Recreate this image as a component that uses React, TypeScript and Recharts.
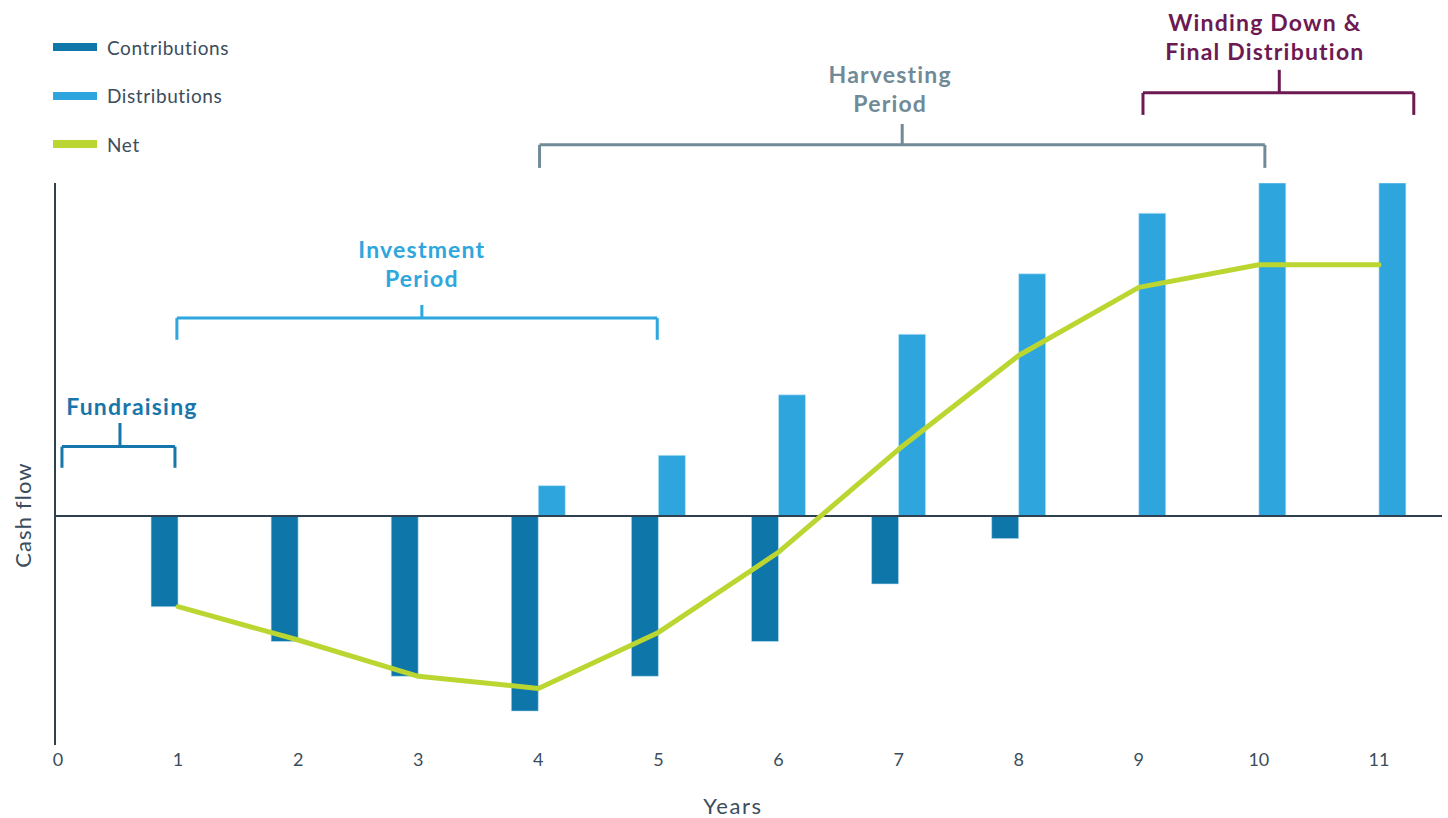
import {
  Bar,
  ComposedChart,
  Label,
  Line,
  ReferenceDot,
  ReferenceLine,
  XAxis,
  YAxis,
} from 'recharts';

const years = [1, 2, 3, 4, 5, 6, 7, 8, 9, 10, 11];
const contributions = [-3.0, -4.15, -5.3, -6.45, -5.3, -4.15, -2.25, -0.75, null, null, null];
const distributions = [null, null, null, 1.0, 2.0, 4.0, 6.0, 8.0, 10.0, 11.0, 11.0];
const net = [-3.0, -4.1, -5.3, -5.7, -3.85, -1.2, 2.2, 5.3, 7.55, 8.3, 8.3];
const xTicks = [0, 1, 2, 3, 4, 5, 6, 7, 8, 9, 10, 11];

const seriesNames = ['Contributions', 'Distributions', 'Net'];
const seriesColors = ['#0e76a8', '#2ea6dd', '#bcd631'];

// phase brackets: span in years, bracket level / leg bottom / tick top in cash-flow units
const phaseNames = [['Fundraising'], ['Investment', 'Period'], ['Harvesting', 'Period'], ['Winding Down &', 'Final Distribution']];
const phaseFrom = [0.033, 0.99, 4.01, 9.035];
const phaseTo = [0.974, 4.99, 10.05, 11.29];
const phaseMid = [0.516, 3.03, 7.03, 10.17];
const phaseLevel = [2.29, 6.54, 12.26, 13.98];
const phaseLeg = [1.59, 5.82, 11.5, 13.25];
const phaseTop = [3.07, 6.97, 12.95, 14.74];
const phaseLabelX = [0.616, 3.03, 6.93, 10.05];
const phaseLabelY = [3.34, 7.57, 13.35, 15.07];
const phaseColors = ['#1776aa', '#2ea6de', '#718a98', '#6d1a52'];

const data = years.map((y, i) => ({
  year: y,
  contributions: contributions[i],
  distributions: distributions[i],
  net: net[i],
}));

const TEXT = '#3b4d5c';
const AXIS = '#2f4050';

function renderPhase(i: number) {
  const c = phaseColors[i];
  const seg = (a: [number, number], b: [number, number], k: string) => (
    <ReferenceLine
      key={`p${i}-${k}`}
      segment={[{ x: a[0], y: a[1] }, { x: b[0], y: b[1] }]}
      stroke={c}
      strokeWidth={3}
      ifOverflow="visible"
    />
  );
  const lines = phaseNames[i];
  return [
    seg([phaseFrom[i], phaseLevel[i]], [phaseTo[i], phaseLevel[i]], 'h'),
    seg([phaseFrom[i], phaseLevel[i]], [phaseFrom[i], phaseLeg[i]], 'l'),
    seg([phaseTo[i], phaseLevel[i]], [phaseTo[i], phaseLeg[i]], 'r'),
    seg([phaseMid[i], phaseLevel[i]], [phaseMid[i], phaseTop[i]], 'm'),
    <ReferenceDot
      key={`p${i}-t`}
      x={phaseLabelX[i]}
      y={phaseLabelY[i]}
      r={0}
      ifOverflow="visible"
      shape={(p: any) => (
        <text
          x={p.cx}
          y={p.cy}
          textAnchor="middle"
          fill={c}
          fontSize={23}
          fontWeight={700}
          fontFamily="Lato"
          letterSpacing={1.2}
        >
          {lines.map((t, j) => (
            <tspan key={j} x={p.cx} dy={j === 0 ? -(lines.length - 1) * 29 : 29}>
              {t}
            </tspan>
          ))}
        </text>
      )}
    />,
  ];
}

export default function App() {
  return (
    <div style={{ position: 'absolute', left: 0, top: 0, width: 1448, height: 818, background: '#fff' }}>
      <div style={{ position: 'absolute', top: 23, left: 53, fontFamily: 'Lato', zIndex: 2 }}>
        {seriesNames.map((n, i) => (
          <div key={n} style={{ display: 'flex', alignItems: 'center', height: 48.5 }}>
            <span style={{ width: 44, height: 8, background: seriesColors[i], display: 'inline-block', marginRight: 10 }} />
            <span style={{ fontSize: 19, letterSpacing: 0.6, color: TEXT }}>{n}</span>
          </div>
        ))}
      </div>
      <ComposedChart
        width={1448}
        height={818}
        data={data}
        margin={{ top: 183, right: 6, bottom: 23, left: 54 }}
        barGap={0}
        style={{ fontFamily: 'Lato' }}
      >
        <XAxis
          dataKey="year"
          type="number"
          domain={[-0.025, 11.525]}
          ticks={xTicks}
          allowDataOverflow
          axisLine={false}
          tickLine={false}
          tickMargin={2}
          height={50}
          tick={{ fill: TEXT, fontSize: 18 }}
        >
          <Label
            content={({ viewBox }: any) => (
              <text x={733} y={viewBox.y + 69} textAnchor="middle" fill={TEXT} fontSize={22} letterSpacing={1.6}>
                Years
              </text>
            )}
          />
        </XAxis>
        <YAxis
          type="number"
          domain={[-7.57, 11]}
          allowDataOverflow
          width={1}
          tick={false}
          tickLine={false}
          axisLine={{ stroke: AXIS, strokeWidth: 2 }}
        >
          <Label
            content={({ viewBox }: any) => {
              const cx = 22;
              const cy = viewBox.y + viewBox.height / 2 + 51;
              return (
                <text x={cx} y={cy} transform={`rotate(-90 ${cx} ${cy})`} textAnchor="middle" dominantBaseline="central" fill={TEXT} fontSize={22} letterSpacing={1.1}>
                  Cash flow
                </text>
              );
            }}
          />
        </YAxis>
        <Bar
          dataKey="contributions"
          name={seriesNames[0]}
          fill={seriesColors[0]}
          stroke="#bfe3f5"
          strokeWidth={0.6}
          barSize={27}
          isAnimationActive={false}
        />
        <Bar
          dataKey="distributions"
          name={seriesNames[1]}
          fill={seriesColors[1]}
          stroke="#c6e8f7"
          strokeWidth={0.6}
          barSize={27}
          isAnimationActive={false}
        />
        <ReferenceLine y={0} stroke={AXIS} strokeWidth={2} />
        <Line
          dataKey="net"
          name={seriesNames[2]}
          type="linear"
          stroke={seriesColors[2]}
          strokeWidth={5}
          strokeLinecap="round"
          strokeLinejoin="round"
          dot={false}
          activeDot={false}
          isAnimationActive={false}
        />
        {phaseNames.flatMap((_, i) => renderPhase(i))}
      </ComposedChart>
    </div>
  );
}
